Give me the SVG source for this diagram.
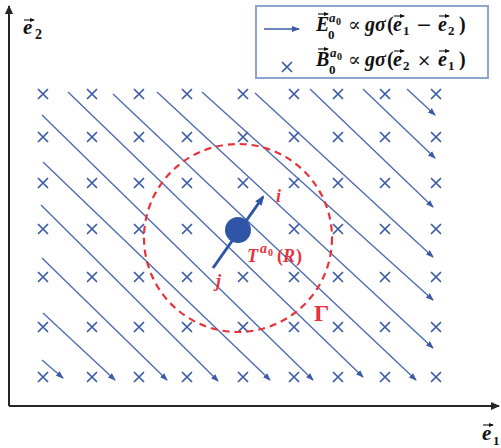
<svg xmlns="http://www.w3.org/2000/svg" width="501" height="448" viewBox="0 0 501 448">
<style>
.fl{stroke:#4A68B0;stroke-width:1.3;fill:none}
.cr{stroke:#3A5BA8;stroke-width:1.7;fill:none}
.ax{stroke:#262626;stroke-width:2;fill:none}
.m{font-family:"Liberation Serif","DejaVu Serif",serif;font-weight:bold;font-style:italic;fill:#111}
.n{font-family:"Liberation Serif","DejaVu Serif",serif;font-weight:bold;font-style:normal;fill:#111}
.s{font-family:"DejaVu Serif","Liberation Serif",serif;font-weight:normal;font-style:normal;fill:#111}
.r{fill:#E8323A}
.vec{stroke:#111;stroke-width:1.1;fill:none}
</style>
<defs>
<marker id="ah" markerWidth="8" markerHeight="6" refX="7" refY="3" orient="auto" markerUnits="userSpaceOnUse"><path d="M0,0L8,3L0,6z" fill="#3A5BA8"/></marker>
<marker id="axh" markerWidth="9" markerHeight="8" refX="8" refY="4" orient="auto" markerUnits="userSpaceOnUse"><path d="M0,0L9,4L0,8z" fill="#262626"/></marker>
<marker id="bh" markerWidth="10" markerHeight="8" refX="8" refY="4" orient="auto" markerUnits="userSpaceOnUse"><path d="M0,0L10,4L0,8z" fill="#2F56A6"/></marker>
<marker id="vh" markerWidth="5" markerHeight="4" refX="4" refY="2" orient="auto" markerUnits="userSpaceOnUse"><path d="M0,0L5,2L0,4z" fill="#111"/></marker>
<path id="x" d="M-5,-5L5,5M5,-5L-5,5"/>
</defs>

<g id="axes">
<path class="ax" d="M9,406V6" marker-end="url(#axh)"/>
<path class="ax" d="M9,406H499" marker-end="url(#axh)"/>
<text class="m" x="23" y="34" font-size="21">e</text>
<text class="n" x="35" y="39" font-size="14">2</text>
<path class="vec" d="M24,20h10" marker-end="url(#vh)"/>
<text class="m" x="482" y="440" font-size="21">e</text>
<text class="n" x="493" y="445" font-size="13">1</text>
<path class="vec" d="M483,425h10" marker-end="url(#vh)"/>
</g>

<g id="connectors">
<path class="fl" d="M407,89L435,115" marker-end="url(#ah)"/>
<path class="fl" d="M363,89L435,158" marker-end="url(#ah)"/>
<path class="fl" d="M310,89L433,207" marker-end="url(#ah)"/>
<path class="fl" d="M255,93L433,257" marker-end="url(#ah)"/>
<path class="fl" d="M202,92L433,300" marker-end="url(#ah)"/>
<path class="fl" d="M157,92L433,348" marker-end="url(#ah)"/>
<path class="fl" d="M113,94L416,380" marker-end="url(#ah)"/>
<path class="fl" d="M68,92L363,377" marker-end="url(#ah)"/>
<path class="fl" d="M42,115L313,380" marker-end="url(#ah)"/>
<path class="fl" d="M43,162L270,380" marker-end="url(#ah)"/>
<path class="fl" d="M41,205L218,381" marker-end="url(#ah)"/>
<path class="fl" d="M42,258L167,380" marker-end="url(#ah)"/>
<path class="fl" d="M43,313L115,380" marker-end="url(#ah)"/>
<path class="fl" d="M42,360L63,378" marker-end="url(#ah)"/>
</g>

<g id="crosses" class="cr">
<use href="#x" x="43" y="94"/><use href="#x" x="92" y="94"/><use href="#x" x="139" y="94"/><use href="#x" x="187" y="94"/><use href="#x" x="243" y="94"/><use href="#x" x="294" y="94"/><use href="#x" x="338" y="94"/><use href="#x" x="385" y="94"/><use href="#x" x="436" y="94"/>
<use href="#x" x="43" y="137"/><use href="#x" x="92" y="137"/><use href="#x" x="139" y="137"/><use href="#x" x="187" y="137"/><use href="#x" x="243" y="137"/><use href="#x" x="294" y="137"/><use href="#x" x="338" y="137"/><use href="#x" x="385" y="137"/><use href="#x" x="436" y="137"/>
<use href="#x" x="43" y="183"/><use href="#x" x="92" y="183"/><use href="#x" x="139" y="183"/><use href="#x" x="187" y="183"/><use href="#x" x="243" y="183"/><use href="#x" x="294" y="183"/><use href="#x" x="338" y="183"/><use href="#x" x="385" y="183"/><use href="#x" x="436" y="183"/>
<use href="#x" x="43" y="229"/><use href="#x" x="92" y="229"/><use href="#x" x="139" y="229"/><use href="#x" x="187" y="229"/><use href="#x" x="294" y="229"/><use href="#x" x="338" y="229"/><use href="#x" x="385" y="229"/><use href="#x" x="436" y="229"/>
<use href="#x" x="43" y="277"/><use href="#x" x="92" y="277"/><use href="#x" x="139" y="277"/><use href="#x" x="187" y="277"/><use href="#x" x="243" y="277"/><use href="#x" x="294" y="277"/><use href="#x" x="338" y="277"/><use href="#x" x="385" y="277"/><use href="#x" x="436" y="277"/>
<use href="#x" x="43" y="327"/><use href="#x" x="92" y="327"/><use href="#x" x="139" y="327"/><use href="#x" x="187" y="327"/><use href="#x" x="243" y="327"/><use href="#x" x="294" y="327"/><use href="#x" x="338" y="327"/><use href="#x" x="385" y="327"/><use href="#x" x="436" y="327"/>
<use href="#x" x="43" y="377"/><use href="#x" x="92" y="377"/><use href="#x" x="139" y="377"/><use href="#x" x="187" y="377"/><use href="#x" x="243" y="377"/><use href="#x" x="294" y="377"/><use href="#x" x="338" y="377"/><use href="#x" x="385" y="377"/><use href="#x" x="436" y="377"/>
</g>

<g id="gamma">
<circle cx="238" cy="238" r="94" fill="none" stroke="#E8323A" stroke-width="2.2" stroke-dasharray="7,5"/>
<text class="n r" x="314" y="321" font-size="24">Γ</text>
</g>

<g id="particle">
<path d="M213,268L263,197" stroke="#2F56A6" stroke-width="3" fill="none" marker-end="url(#bh)"/>
<circle cx="238" cy="230" r="13" fill="#2F56A6"/>
<text class="m r" x="276" y="202" font-size="18">i</text>
<text class="m r" x="216" y="287" font-size="18">j</text>
<text class="m r" x="247" y="262" font-size="18">T</text>
<text class="m r" x="260" y="253" font-size="14" font-weight="normal">a</text>
<text class="n r" x="268" y="256" font-size="10">0</text>
<text class="n r" x="277" y="262" font-size="18">(</text>
<text class="m r" x="283" y="262" font-size="18">R</text>
<text class="n r" x="296" y="262" font-size="18">)</text>
</g>

<g id="legend">
<rect x="256" y="6" width="232" height="72" fill="#fff" stroke="#8FA3CF" stroke-width="2"/>
<path d="M264,29H299" stroke="#3A5BA8" stroke-width="1.3" marker-end="url(#ah)"/>
<use href="#x" x="287" y="67" class="cr"/>

<text class="m" x="316" y="31" font-size="20">E</text>
<path class="vec" d="M318,14h10" marker-end="url(#vh)"/>
<text class="m" x="329" y="22" font-size="13" font-weight="normal">a</text>
<text class="n" x="336" y="25" font-size="10">0</text>
<text class="n" x="328" y="39" font-size="13">0</text>
<text class="s" x="348" y="31" font-size="19">∝</text>
<text class="m" x="365" y="31" font-size="20">g</text>
<text class="m" x="375" y="31" font-size="20">σ</text>
<text class="n" x="387" y="31" font-size="20">(</text>
<text class="m" x="393" y="31" font-size="20">e</text>
<path class="vec" d="M394,16h10" marker-end="url(#vh)"/>
<text class="n" x="403" y="35" font-size="13">1</text>
<text class="s" x="416" y="31" font-size="19">−</text>
<text class="m" x="438" y="31" font-size="20">e</text>
<path class="vec" d="M439,16h10" marker-end="url(#vh)"/>
<text class="n" x="448" y="35" font-size="13">2</text>
<text class="n" x="459" y="31" font-size="20">)</text>

<text class="m" x="316" y="66" font-size="20">B</text>
<path class="vec" d="M318,49h10" marker-end="url(#vh)"/>
<text class="m" x="330" y="57" font-size="13" font-weight="normal">a</text>
<text class="n" x="337" y="60" font-size="10">0</text>
<text class="n" x="329" y="74" font-size="13">0</text>
<text class="s" x="348" y="66" font-size="19">∝</text>
<text class="m" x="365" y="66" font-size="20">g</text>
<text class="m" x="375" y="66" font-size="20">σ</text>
<text class="n" x="387" y="66" font-size="20">(</text>
<text class="m" x="393" y="66" font-size="20">e</text>
<path class="vec" d="M394,51h10" marker-end="url(#vh)"/>
<text class="n" x="403" y="70" font-size="13">2</text>
<text class="s" x="417" y="66" font-size="17">×</text>
<text class="m" x="438" y="66" font-size="20">e</text>
<path class="vec" d="M439,51h10" marker-end="url(#vh)"/>
<text class="n" x="448" y="70" font-size="13">1</text>
<text class="n" x="459" y="66" font-size="20">)</text>
</g>
</svg>
